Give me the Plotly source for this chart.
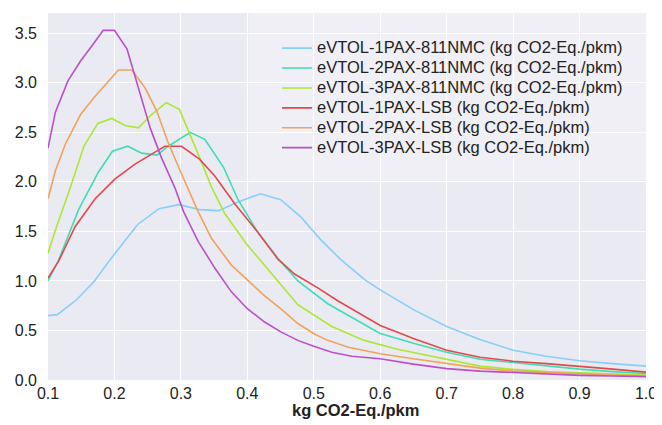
import plotly.graph_objects as go

# ---- data ----
names = [
    "eVTOL-1PAX-811NMC (kg CO2-Eq./pkm)",
    "eVTOL-2PAX-811NMC (kg CO2-Eq./pkm)",
    "eVTOL-3PAX-811NMC (kg CO2-Eq./pkm)",
    "eVTOL-1PAX-LSB (kg CO2-Eq./pkm)",
    "eVTOL-2PAX-LSB (kg CO2-Eq./pkm)",
    "eVTOL-3PAX-LSB (kg CO2-Eq./pkm)",
]

x_1pax_nmc = [0.100, 0.114, 0.143, 0.170, 0.193, 0.235, 0.267, 0.297, 0.328, 0.357, 0.387, 0.420,
              0.450, 0.480, 0.510, 0.540, 0.577, 0.600, 0.650, 0.700, 0.750, 0.800, 0.850, 0.900,
              0.950, 1.000]
y_1pax_nmc = [0.65, 0.66, 0.81, 1.00, 1.21, 1.57, 1.73, 1.77, 1.72, 1.71, 1.80, 1.88,
              1.82, 1.65, 1.42, 1.22, 1.01, 0.91, 0.71, 0.54, 0.41, 0.30, 0.24, 0.195,
              0.165, 0.14]

x_2pax_nmc = [0.100, 0.116, 0.146, 0.176, 0.197, 0.220, 0.241, 0.264, 0.281, 0.314, 0.336, 0.364,
              0.386, 0.416, 0.446, 0.476, 0.521, 0.550, 0.576, 0.600, 0.650, 0.700, 0.750, 0.800,
              0.850, 0.900, 0.950, 1.000]
y_2pax_nmc = [1.00, 1.21, 1.72, 2.10, 2.31, 2.36, 2.29, 2.27, 2.36, 2.50, 2.43, 2.15,
              1.82, 1.49, 1.23, 1.00, 0.77, 0.66, 0.56, 0.47, 0.37, 0.28, 0.21, 0.175,
              0.14, 0.11, 0.085, 0.065]

x_3pax_nmc = [0.100, 0.111, 0.134, 0.154, 0.175, 0.196, 0.216, 0.236, 0.256, 0.278, 0.298, 0.314,
              0.331, 0.346, 0.366, 0.398, 0.436, 0.476, 0.527, 0.576, 0.626, 0.675, 0.715, 0.750,
              0.800, 0.850, 0.900, 0.950, 1.000]
y_3pax_nmc = [1.28, 1.51, 1.95, 2.36, 2.59, 2.64, 2.57, 2.545, 2.68, 2.80, 2.73, 2.48,
              2.20, 1.95, 1.68, 1.38, 1.08, 0.76, 0.54, 0.40, 0.31, 0.245, 0.19, 0.14,
              0.107, 0.085, 0.072, 0.06, 0.05]

x_1pax_lsb = [0.100, 0.116, 0.141, 0.171, 0.201, 0.231, 0.261, 0.276, 0.301, 0.328, 0.351, 0.381,
              0.416, 0.446, 0.471, 0.506, 0.536, 0.600, 0.650, 0.700, 0.750, 0.800, 0.850, 0.900,
              0.950, 1.000]
y_1pax_lsb = [1.03, 1.20, 1.55, 1.83, 2.03, 2.18, 2.30, 2.36, 2.36, 2.23, 2.06, 1.78,
              1.49, 1.22, 1.07, 0.93, 0.80, 0.55, 0.42, 0.30, 0.23, 0.19, 0.165, 0.14,
              0.11, 0.08]

x_2pax_lsb = [0.100, 0.111, 0.126, 0.149, 0.169, 0.189, 0.206, 0.226, 0.246, 0.264, 0.280, 0.299,
              0.326, 0.346, 0.376, 0.400, 0.426, 0.451, 0.476, 0.501, 0.521, 0.552, 0.600, 0.650,
              0.700, 0.750, 0.800, 0.850, 0.900, 0.950, 1.000]
y_2pax_lsb = [1.83, 2.11, 2.38, 2.68, 2.85, 3.00, 3.13, 3.13, 2.95, 2.71, 2.41, 2.11,
              1.70, 1.43, 1.16, 1.01, 0.85, 0.715, 0.57, 0.465, 0.40, 0.33, 0.265, 0.215,
              0.165, 0.12, 0.09, 0.075, 0.065, 0.05, 0.04]

x_3pax_lsb = [0.100, 0.111, 0.130, 0.149, 0.169, 0.183, 0.200, 0.219, 0.236, 0.254, 0.271, 0.291,
              0.304, 0.326, 0.351, 0.376, 0.400, 0.426, 0.451, 0.476, 0.500, 0.527, 0.557, 0.600,
              0.650, 0.700, 0.750, 0.800, 0.850, 0.900, 0.950, 1.000]
y_3pax_lsb = [2.34, 2.70, 3.02, 3.22, 3.40, 3.53, 3.53, 3.34, 2.95, 2.54, 2.24, 1.94,
              1.70, 1.40, 1.13, 0.89, 0.72, 0.585, 0.483, 0.40, 0.34, 0.28, 0.24, 0.215,
              0.16, 0.115, 0.09, 0.074, 0.06, 0.047, 0.04, 0.034]

x_ticks = [0.1, 0.2, 0.3, 0.4, 0.5, 0.6, 0.7, 0.8, 0.9, 1.0]
y_ticks = [0.0, 0.5, 1.0, 1.5, 2.0, 2.5, 3.0, 3.5]
x_title = "kg CO2-Eq./pkm"

colors = ["rgb(135,206,250)", "rgb(64,220,180)", "rgb(172,232,50)",
          "rgb(224,74,74)", "rgb(242,162,90)", "rgb(186,80,200)"]

series = [
    (x_1pax_nmc, y_1pax_nmc),
    (x_2pax_nmc, y_2pax_nmc),
    (x_3pax_nmc, y_3pax_nmc),
    (x_1pax_lsb, y_1pax_lsb),
    (x_2pax_lsb, y_2pax_lsb),
    (x_3pax_lsb, y_3pax_lsb),
]

FONT = "Liberation Sans, Arial, sans-serif"

fig = go.Figure()
for name, (xs, ys), c in zip(names, series, colors):
    fig.add_trace(go.Scatter(
        x=xs, y=ys, mode="lines",
        name='<span style="font-size:16.5px">' + name + '</span>',
        line=dict(color=c, width=1.6)))

# page body has an 8px default margin; the figure is sized to fit inside the window
fig.update_layout(
    width=654, height=417,
    margin=dict(l=40, r=13, t=5, b=45),
    paper_bgcolor="white",
    plot_bgcolor="rgb(234,234,242)",
    font=dict(family=FONT, size=16, color="#222222"),
    showlegend=True,
    legend=dict(
        x=0.383, y=0.945, xanchor="left", yanchor="top",
        bgcolor="rgba(0,0,0,0)", borderwidth=0,
        font=dict(family=FONT, size=13, color="#222222"),
        tracegroupgap=0,
    ),
    shapes=[dict(type="rect", xref="paper", yref="paper",
                 x0=0.336, x1=1.0, y0=0.545, y1=1.0,
                 fillcolor="rgb(239,239,245)", line=dict(width=0), layer="below")],
    annotations=[dict(text="<b>" + x_title + "</b>", xref="paper", yref="paper",
                      x=0.514, y=-0.082, xanchor="center", yanchor="middle",
                      showarrow=False, font=dict(family=FONT, size=16.5, color="#222222"))],
)

fig.update_xaxes(range=[0.1, 1.0], tickvals=x_ticks, ticktext=[f"{v:.1f}" for v in x_ticks],
                 showgrid=True, gridcolor="white", gridwidth=1.2, zeroline=False,
                 showline=False, ticks="", ticklabelstandoff=2)
fig.update_yaxes(range=[0, 3.705], tickvals=y_ticks, ticktext=[f"{v:.1f}" for v in y_ticks],
                 showgrid=True, gridcolor="white", gridwidth=1.2, zeroline=False,
                 showline=False, ticks="", ticklabelstandoff=10)

fig.write_html("out.html")
